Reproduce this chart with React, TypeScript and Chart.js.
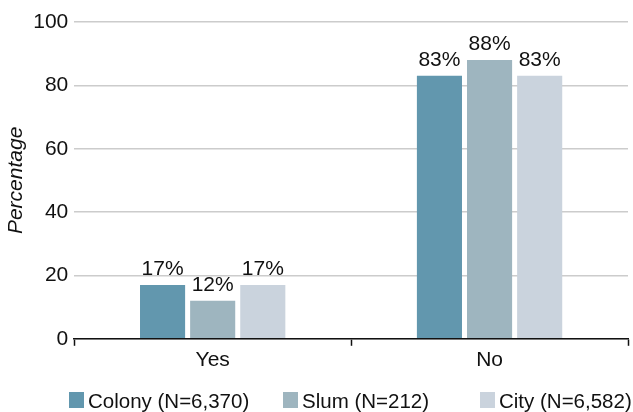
import React, { useEffect, useRef } from "react";
import { Chart, registerables } from "chart.js";

Chart.register(...registerables);

const categories = ["Yes", "No"];
const seriesNames = ["Colony (N=6,370)", "Slum (N=212)", "City (N=6,582)"];
const colonyValues = [17, 83];
const slumValues = [12, 88];
const cityValues = [17, 83];
const seriesColors = ["#6297ae", "#9eb5bf", "#cad3dd"];
const yTicks = [0, 20, 40, 60, 80, 100];

const FONT = "'Liberation Sans', Arial, Helvetica, sans-serif";
const TEXT = "#111";

const valueLabels = {
  id: "valueLabels",
  afterDatasetsDraw(chart: any) {
    const ctx = chart.ctx;
    ctx.save();
    ctx.font = `21px ${FONT}`;
    ctx.fillStyle = TEXT;
    ctx.textAlign = "center";
    ctx.textBaseline = "alphabetic";
    chart.data.datasets.forEach((ds: any, i: number) => {
      chart.getDatasetMeta(i).data.forEach((bar: any, j: number) => {
        ctx.fillText(`${ds.data[j]}%`, bar.x, bar.y - 10);
      });
    });
    ctx.restore();
  },
};

// Legend row under the axis: a swatch followed by its label
const legendRow = {
  id: "legendRow",
  afterDraw(chart: any) {
    const ctx = chart.ctx;
    const starts = [69, 283, 480];
    const top = 392;
    ctx.save();
    ctx.font = `20.5px ${FONT}`;
    ctx.textBaseline = "alphabetic";
    ctx.textAlign = "left";
    chart.data.datasets.forEach((ds: any, i: number) => {
      ctx.fillStyle = ds.backgroundColor;
      ctx.fillRect(starts[i], top, 15, 16);
      ctx.fillStyle = TEXT;
      ctx.fillText(ds.label, starts[i] + 19, top + 16);
    });
    ctx.restore();
  },
};

export default function App() {
  const ref = useRef<HTMLCanvasElement>(null);

  useEffect(() => {
    document.body.style.margin = "0";
    const values = [colonyValues, slumValues, cityValues];
    const chart = new Chart(ref.current!, {
      type: "bar",
      data: {
        labels: categories,
        datasets: seriesNames.map((name, i) => ({
          label: name,
          data: values[i],
          backgroundColor: seriesColors[i],
          barPercentage: 0.9,
          categoryPercentage: 0.543,
        })),
      },
      options: {
        animation: false,
        responsive: false,
        devicePixelRatio: 1,
        layout: { padding: { left: 0, right: 5, top: 22, bottom: 37 } },
        plugins: {
          legend: { display: false },
          tooltip: { enabled: false },
        },
        scales: {
          x: {
            grid: {
              drawOnChartArea: false,
              drawTicks: true,
              tickLength: 7,
              tickWidth: 1.5,
              color: "#111",
            },
            border: { color: "#111", width: 1.5 },
            ticks: {
              color: TEXT,
              font: { family: FONT, size: 21 },
              padding: 2,
            },
          },
          y: {
            min: 0,
            max: 100,
            afterBuildTicks(scale: any) {
              scale.ticks = yTicks.map((v) => ({ value: v }));
            },
            grid: { color: "#cccccc", lineWidth: 1.5, drawTicks: false },
            border: { display: false },
            ticks: {
              color: TEXT,
              font: { family: FONT, size: 21 },
              padding: 6,
            },
            title: {
              display: true,
              text: "Percentage",
              color: TEXT,
              font: { family: FONT, size: 21, style: "italic" },
              padding: { top: 4, bottom: -2 },
            },
          },
        },
      },
      plugins: [valueLabels, legendRow],
    });
    return () => chart.destroy();
  }, []);

  return <canvas ref={ref} width={633} height={412} style={{ display: "block" }} />;
}
